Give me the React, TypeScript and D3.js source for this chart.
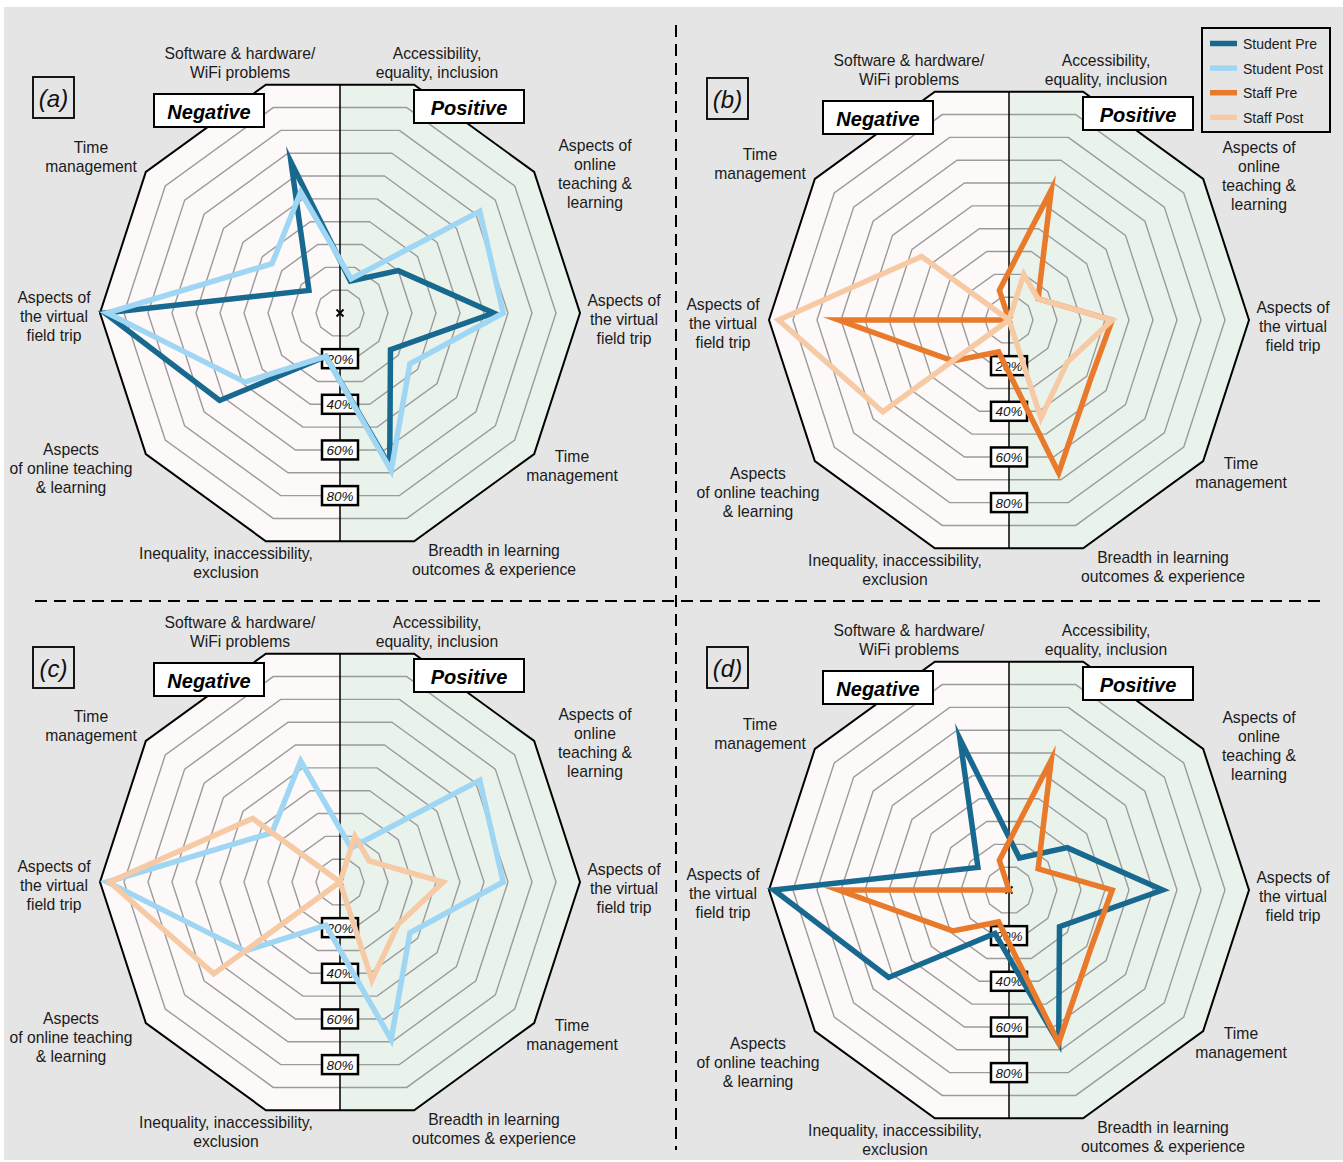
import { useEffect, useRef } from 'react';
import * as d3 from 'd3';

// ten spokes, clockwise from the top-right
const axisLabels: string[][] = [
  ['Accessibility,', 'equality, inclusion'],
  ['Aspects of', 'online', 'teaching &', 'learning'],
  ['Aspects of', 'the virtual', 'field trip'],
  ['Time', 'management'],
  ['Breadth in learning', 'outcomes & experience'],
  ['Inequality, inaccessibility,', 'exclusion'],
  ['Aspects', 'of online teaching', '& learning'],
  ['Aspects of', 'the virtual', 'field trip'],
  ['Time', 'management'],
  ['Software & hardware/', 'WiFi problems'],
];

// percent of responses per theme
const studentPre = [14, 30, 64, 26, 67, 19, 62, 98, 16, 66];
const studentPost = [15, 72, 68, 36, 69, 19, 49, 97, 35, 53];
const staffPre = [57, 15, 43, 42, 67, 14, 29, 71, 0, 13];
const staffPost = [20, 15, 43, 30, 43, 0, 65, 96, 45, 0];

const seriesNames = ['Student Pre', 'Student Post', 'Staff Pre', 'Staff Post'];
const seriesValues = [studentPre, studentPost, staffPre, staffPost];
const seriesColors = ['#17698f', '#9fd6f3', '#e97a2b', '#f6caa5'];

const gridLevels = d3.range(10, 101, 10);
const percentTicks = [20, 40, 60, 80];

const panelIds = ['a', 'b', 'c', 'd'];
const panelSeries = [[0, 1], [2, 3], [1, 3], [0, 2]];

// layout
const W = 1343;
const H = 1162;
const panelCenters: [number, number][] = [[340, 313], [1009, 320], [340, 882], [1009, 890]];
const letterBoxes: [number, number][] = [[33, 77], [707, 78], [33, 647], [707, 647]];
const labelOffsetsLeft: [number, number][] = [
  [97, -260],
  [255, -168],
  [284, -13],
  [232, 143],
  [154, 237],
  [-114, 240],
  [-269, 136],
  [-286, -16],
  [-249, -166],
  [-100, -260],
];
const labelOffsetsRight: [number, number][] = labelOffsetsLeft.map((o, i) =>
  i === 1 ? [250, -173] : i === 6 ? [-251, 153] : o
);
const FONT = '"Liberation Sans", Arial, Helvetica, sans-serif';

export default function App() {
  const svgRef = useRef<SVGSVGElement>(null);

  useEffect(() => {
    if (!svgRef.current) return;
    const svg = d3.select(svgRef.current);
    svg.selectAll('*').remove();

    svg.append('rect').attr('width', W).attr('height', H).attr('fill', '#ffffff');
    svg.append('rect')
      .attr('x', 4).attr('y', 7)
      .attr('width', W - 4).attr('height', 1153)
      .attr('fill', '#e5e5e5');

    // panel separators
    svg.append('line')
      .attr('x1', 676).attr('x2', 676).attr('y1', 25).attr('y2', 1150)
      .attr('stroke', '#000').attr('stroke-width', 2).attr('stroke-dasharray', '12,7');
    svg.append('line')
      .attr('x1', 35).attr('x2', 1320).attr('y1', 601).attr('y2', 601)
      .attr('stroke', '#000').attr('stroke-width', 2).attr('stroke-dasharray', '12,7');

    const rScale = d3.scaleLinear().domain([0, 100]).range([0, 240]);
    const angle = d3.scaleLinear().domain([0, 10]).range([Math.PI / 10, Math.PI / 10 + 2 * Math.PI]);
    const apothem = (v: number) => rScale(v) * Math.cos(Math.PI / 10);
    const pt = (i: number, v: number): [number, number] => [
      rScale(v) * Math.sin(angle(i)),
      -rScale(v) * Math.cos(angle(i)),
    ];

    const ring = d3.lineRadial<number>()
      .angle((_, i) => angle(i))
      .radius(d => rScale(d))
      .curve(d3.curveLinearClosed);

    panelIds.forEach((id, p) => {
      const [cx, cy] = panelCenters[p];
      const g = svg.append('g').attr('transform', `translate(${cx},${cy})`);

      // half fills
      const top: [number, number] = [0, -apothem(100)];
      const bottom: [number, number] = [0, apothem(100)];
      const rightPts = [top, ...[0, 1, 2, 3, 4].map(i => pt(i, 100)), bottom];
      const leftPts = [bottom, ...[5, 6, 7, 8, 9].map(i => pt(i, 100)), top];
      const poly = d3.line().curve(d3.curveLinearClosed);
      g.append('path').attr('d', poly(rightPts)).attr('fill', '#eaf3eb');
      g.append('path').attr('d', poly(leftPts)).attr('fill', '#fdf9f8');

      // grid rings
      gridLevels.slice(0, -1).forEach(level => {
        g.append('path')
          .attr('d', ring(d3.range(10).map(() => level)))
          .attr('fill', 'none')
          .attr('stroke', '#9b9b9b')
          .attr('stroke-width', 1.4);
      });
      g.append('path')
        .attr('d', ring(d3.range(10).map(() => 100)))
        .attr('fill', 'none')
        .attr('stroke', '#000')
        .attr('stroke-width', 2);

      // divider
      g.append('line')
        .attr('x1', 0).attr('x2', 0)
        .attr('y1', -apothem(100)).attr('y2', apothem(100))
        .attr('stroke', '#000').attr('stroke-width', 1.5);

      // percent tags
      percentTicks.forEach(t => {
        const y = apothem(t);
        g.append('rect')
          .attr('x', -18).attr('y', y - 9.5)
          .attr('width', 36).attr('height', 19)
          .attr('fill', '#fff').attr('stroke', '#000').attr('stroke-width', 2.5);
        g.append('text')
          .attr('x', 0).attr('y', y + 0.5)
          .attr('text-anchor', 'middle').attr('dominant-baseline', 'central')
          .attr('font-family', FONT).attr('font-size', 13.5).attr('font-style', 'italic')
          .attr('fill', '#111')
          .text(`${t}%`);
      });

      // center cross
      g.append('path')
        .attr('d', 'M-3.5,-3.5L3.5,3.5M-3.5,3.5L3.5,-3.5')
        .attr('stroke', '#000').attr('stroke-width', 1.8);

      // series
      panelSeries[p].forEach(s => {
        g.append('path')
          .datum(seriesValues[s])
          .attr('d', ring)
          .attr('fill', 'none')
          .attr('stroke', seriesColors[s])
          .attr('stroke-width', 5.5)
          .attr('stroke-linejoin', 'miter')
          .attr('stroke-miterlimit', 12);
      });

      // axis labels
      const offsets = p % 2 === 0 ? labelOffsetsLeft : labelOffsetsRight;
      axisLabels.forEach((lines, i) => {
        const [dx, dy] = offsets[i];
        const t = g.append('text')
          .attr('text-anchor', 'middle')
          .attr('font-family', FONT).attr('font-size', 15.7)
          .attr('fill', '#1a1a1a');
        lines.forEach((line, k) => {
          t.append('tspan')
            .attr('x', dx).attr('y', dy + k * 19)
            .attr('dominant-baseline', 'central')
            .text(line);
        });
      });

      // Negative / Positive tags
      [['Negative', -186, -219], ['Positive', 74, -223]].forEach(([txt, x, y]) => {
        g.append('rect')
          .attr('x', x as number).attr('y', y as number)
          .attr('width', 110).attr('height', 33)
          .attr('fill', '#fff').attr('stroke', '#000').attr('stroke-width', 2);
        g.append('text')
          .attr('x', (x as number) + 55).attr('y', (y as number) + 17.5)
          .attr('text-anchor', 'middle').attr('dominant-baseline', 'central')
          .attr('font-family', FONT).attr('font-size', 20)
          .attr('font-weight', 'bold').attr('font-style', 'italic')
          .attr('fill', '#000')
          .text(txt as string);
      });

      // panel letter
      const [lx, ly] = letterBoxes[p];
      svg.append('rect')
        .attr('x', lx).attr('y', ly)
        .attr('width', 41).attr('height', 41)
        .attr('fill', 'none').attr('stroke', '#000').attr('stroke-width', 1.8);
      svg.append('text')
        .attr('x', lx + 20.5).attr('y', ly + 21)
        .attr('text-anchor', 'middle').attr('dominant-baseline', 'central')
        .attr('font-family', FONT).attr('font-size', 24).attr('font-style', 'italic')
        .attr('fill', '#111')
        .text(`(${id})`);
    });

    // legend
    const lg = svg.append('g').attr('transform', 'translate(1202,28)');
    lg.append('rect')
      .attr('width', 128).attr('height', 104)
      .attr('fill', '#e5e5e5').attr('stroke', '#000').attr('stroke-width', 2);
    seriesNames.forEach((name, i) => {
      const y = 15.5 + i * 24.6;
      lg.append('line')
        .attr('x1', 8).attr('x2', 35).attr('y1', y).attr('y2', y)
        .attr('stroke', seriesColors[i]).attr('stroke-width', 5.5);
      lg.append('text')
        .attr('x', 41).attr('y', y + 0.5)
        .attr('dominant-baseline', 'central')
        .attr('font-family', FONT).attr('font-size', 14)
        .attr('fill', '#1a1a1a')
        .text(name);
    });
  }, []);

  return (
    <svg
      ref={svgRef}
      width={W}
      height={H}
      style={{ position: 'absolute', left: 0, top: 0, display: 'block' }}
    />
  );
}
